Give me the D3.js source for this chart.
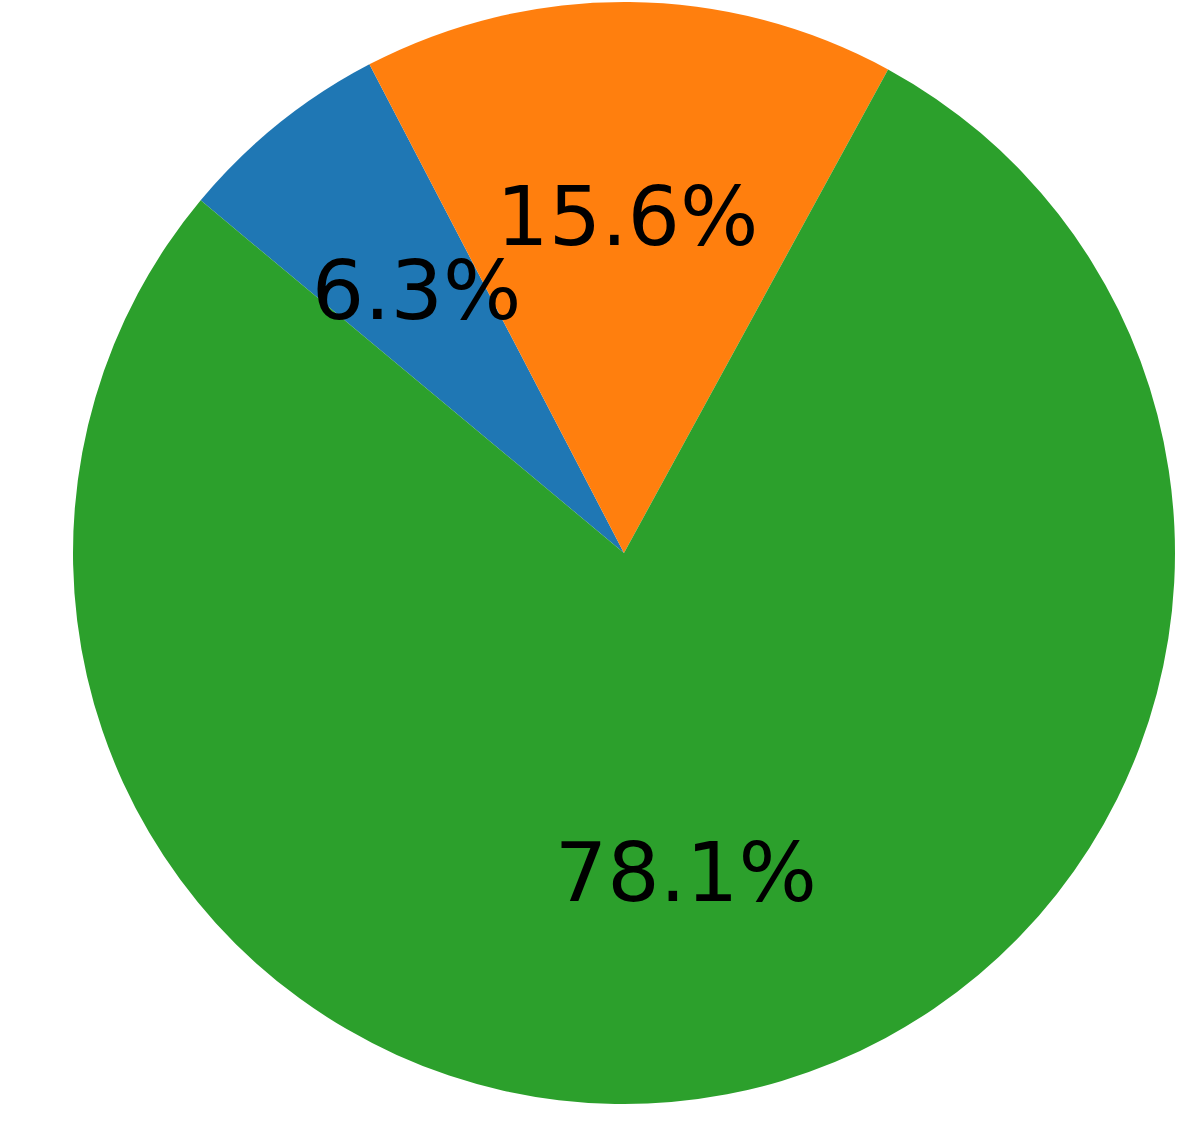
<!DOCTYPE html>
<html>
<head>
<meta charset="utf-8">
<script src="https://cdn.jsdelivr.net/npm/d3@7"></script>
<style>
  html, body { margin: 0; padding: 0; background: #fff; }
  svg { display: block; }
</style>
</head>
<body>
<div class="js-d3"></div>
<script>
const labels = ["A", "B", "C"];
const shares = [6.3, 15.6, 78.1];
const colors = ["#1f77b4", "#ff7f0e", "#2ca02c"];

const w = 1196;
const h = 1145;
const cx = 624;
const cy = 553;
const radius = 551;

// first wedge starts up-left and runs clockwise
const startDeg = -50.2;

const svg = d3
  .select(".js-d3")
  .append("svg")
  .attr("width", w)
  .attr("height", h);

const g = svg.append("g").attr("transform", `translate(${cx}, ${cy})`);

const pie = d3
  .pie()
  .sort(null)
  .value((d) => d)
  .startAngle((startDeg * Math.PI) / 180)
  .endAngle((startDeg * Math.PI) / 180 + 2 * Math.PI);

const arcs = pie(shares);

const arc = d3.arc().innerRadius(0).outerRadius(radius);
const labelArc = d3
  .arc()
  .innerRadius(radius * 0.6)
  .outerRadius(radius * 0.6);

g.selectAll("path.slice")
  .data(arcs)
  .enter()
  .append("path")
  .attr("class", "slice")
  .attr("d", arc)
  .attr("fill", (d, i) => colors[i]);

g.selectAll("text.pct")
  .data(arcs)
  .enter()
  .append("text")
  .attr("class", "pct")
  .attr("x", (d) => labelArc.centroid(d)[0])
  .attr("y", (d) => labelArc.centroid(d)[1] + 23)
  .attr("text-anchor", "middle")
  .attr("font-family", "DejaVu Sans")
  .attr("font-size", 82.5)
  .attr("fill", "#000")
  .text((d) => `${d.data.toFixed(1)}%`);
</script>
</body>
</html>
